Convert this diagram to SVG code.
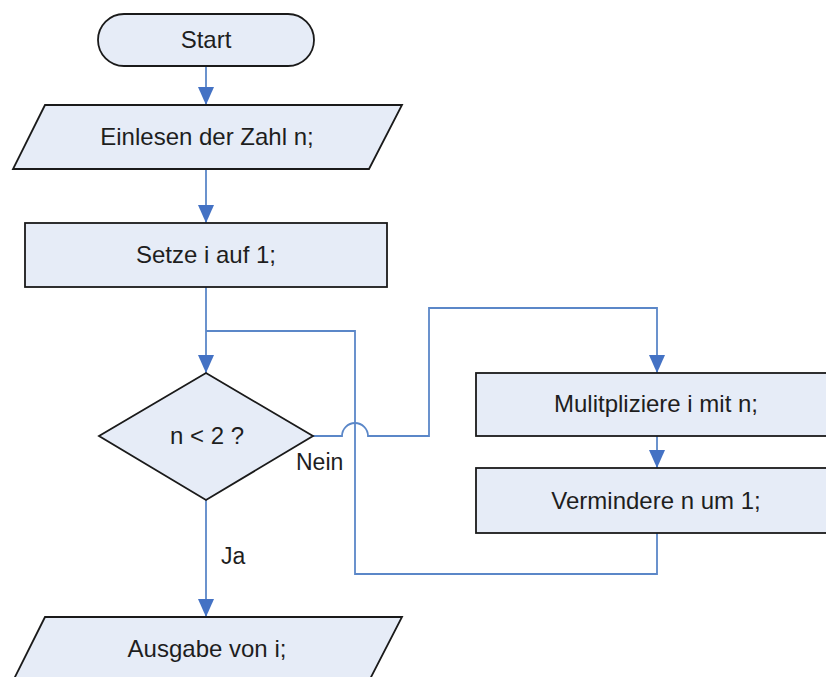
<svg xmlns="http://www.w3.org/2000/svg" width="826" height="677" viewBox="0 0 826 677">
<style>
.shape{fill:#e6ecf7;stroke:#1a1a1a;stroke-width:1.8}
.t{font-family:"Liberation Sans",Arial,sans-serif;font-size:24px;fill:#1e1e1e;text-anchor:middle}
.lbl{font-family:"Liberation Sans",Arial,sans-serif;font-size:23px;fill:#1e1e1e}
.c{fill:none;stroke:#5b87c8;stroke-width:1.8}
</style>
<defs>
<marker id="ah" markerUnits="userSpaceOnUse" markerWidth="20" markerHeight="18" viewBox="0 0 20 18" refX="18" refY="9" orient="auto">
<path d="M0,1 L18,9 L0,17 Z" fill="#4472c4"/>
</marker>
</defs>
<rect width="826" height="677" fill="#ffffff"/>
<g id="connectors">
<path class="c" d="M206,66 V105" marker-end="url(#ah)"/>
<path class="c" d="M206,169 V223" marker-end="url(#ah)"/>
<path class="c" d="M206,287 V373" marker-end="url(#ah)"/>
<path class="c" d="M206,500 V617" marker-end="url(#ah)"/>
<path class="c" d="M313,436 H342 A13,13 0 0 1 368,436 H429 V308 H657 V373" marker-end="url(#ah)"/>
<path class="c" d="M657,436 V468" marker-end="url(#ah)"/>
<path class="c" d="M657,533 V574 H355 V331 H206"/>
</g>
<g id="start">
<rect class="shape" x="98" y="14" width="216" height="52" rx="26" ry="26"/>
<text class="t" x="206" y="48">Start</text>
</g>
<g id="einlesen">
<polygon class="shape" points="45,105 402,105 369,169 13,169"/>
<text class="t" x="207" y="145">Einlesen der Zahl n;</text>
</g>
<g id="setze">
<rect class="shape" x="25" y="223" width="362" height="64"/>
<text class="t" x="206" y="263">Setze i auf 1;</text>
</g>
<g id="decision">
<polygon class="shape" points="206,373 313,436 206,500 99,436"/>
<text class="t" x="207" y="444">n &lt; 2 ?</text>
</g>
<g id="multipliziere">
<rect class="shape" x="476" y="373" width="362" height="63"/>
<text class="t" x="656" y="412">Mulitpliziere i mit n;</text>
</g>
<g id="vermindere">
<rect class="shape" x="476" y="468" width="362" height="65"/>
<text class="t" x="656" y="509">Vermindere n um 1;</text>
</g>
<g id="ausgabe">
<polygon class="shape" points="45,617 402,617 369,681 13,681"/>
<text class="t" x="207" y="657">Ausgabe von i;</text>
</g>
<g id="labels">
<text class="lbl" x="296" y="470">Nein</text>
<text class="lbl" x="221" y="564">Ja</text>
</g>
</svg>
